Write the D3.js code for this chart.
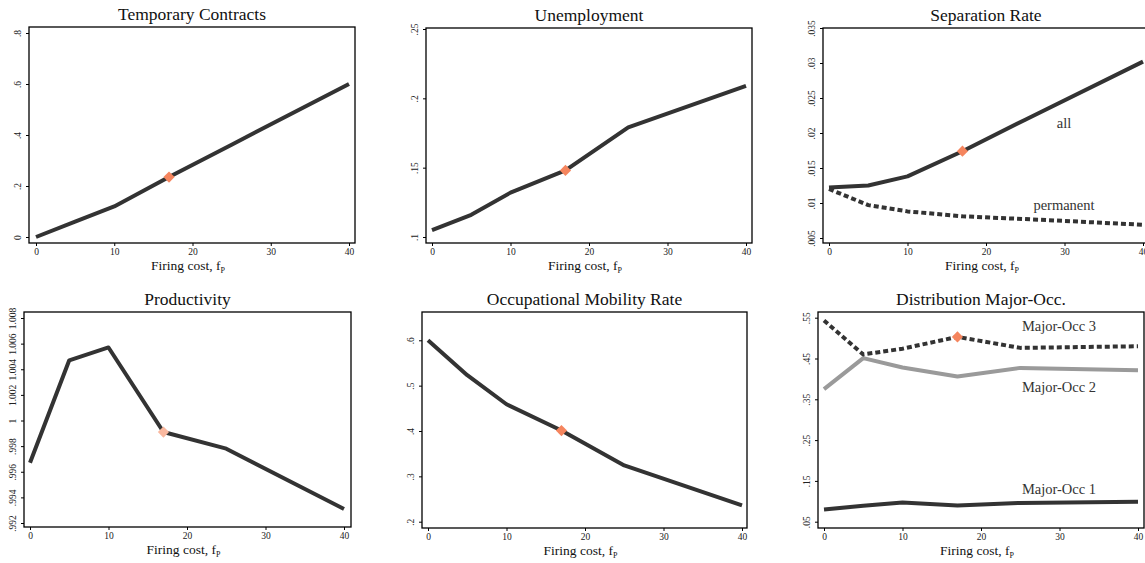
<!DOCTYPE html>
<html><head><meta charset="utf-8">
<script src="https://cdn.jsdelivr.net/npm/d3@7/dist/d3.min.js"></script>
<style>
body{margin:0;background:#fff;}
svg{display:block;font-family:"Liberation Serif","Times New Roman",serif;}
</style></head><body>
<svg id="c" width="1145" height="563"></svg>
<script>
const firingCost = [0, 5, 10, 17, 25, 40];
const baselineFc = 17;
const xTicks = [0, 10, 20, 30, 40];

const tempContracts = [0, 0.06, 0.12, 0.235, 0.362, 0.6];
const unemployment = [0.105, 0.116, 0.132, 0.148, 0.179, 0.209];
const sepAll = [0.0122, 0.0125, 0.0138, 0.0174, 0.0219, 0.0302];
const sepPermanent = [0.0120, 0.0097, 0.0088, 0.0081, 0.0077, 0.0069];
const productivity = [0.9967, 1.0047, 1.0057, 0.9991, 0.9978, 0.9931];
const occMobility = [0.600, 0.523, 0.459, 0.401, 0.324, 0.236];
const majorOcc1 = [0.080, 0.089, 0.097, 0.090, 0.096, 0.099];
const majorOcc2 = [0.375, 0.451, 0.428, 0.406, 0.427, 0.421];
const majorOcc3 = [0.543, 0.460, 0.474, 0.503, 0.476, 0.480];

const ticksTemp = [0, 0.2, 0.4, 0.6, 0.8];
const ticksUnemp = [0.1, 0.15, 0.2, 0.25];
const ticksSep = [0.005, 0.01, 0.015, 0.02, 0.025, 0.03, 0.035];
const ticksProd = [0.992, 0.994, 0.996, 0.998, 1, 1.002, 1.004, 1.006, 1.008];
const ticksMob = [0.2, 0.3, 0.4, 0.5, 0.6];
const ticksDist = [0.05, 0.15, 0.25, 0.35, 0.45, 0.55];

const fmt = v => {
  let s = String(+v.toFixed(4));
  if (s.startsWith("0.")) s = s.slice(1);
  return s;
};

const panels = [
  {title:"Temporary Contracts", fx:29, fy:27, fw:326, fh:216, xr:[36,349], yd:[0,0.8], yr:[237,33], ticks:ticksTemp,
   series:[{v:tempContracts, c:"#333333", dash:null, diamond:true}]},
  {title:"Unemployment", fx:426, fy:28, fw:326, fh:215, xr:[432,746], yd:[0.1,0.25], yr:[237,29], ticks:ticksUnemp,
   series:[{v:unemployment, c:"#333333", dash:null, diamond:true}]},
  {title:"Separation Rate", fx:823, fy:28, fw:326, fh:215, xr:[829,1143], yd:[0.005,0.035], yr:[238,28], ticks:ticksSep,
   series:[{v:sepAll, c:"#333333", dash:null, diamond:true},{v:sepPermanent, c:"#333333", dash:"5,3", diamond:false}],
   labels:[{t:"all", x:1064, y:128},{t:"permanent", x:1064, y:210}]},
  {title:"Productivity", fx:24, fy:312, fw:327, fh:215, xr:[30,344], yd:[0.992,1.008], yr:[523,318], ticks:ticksProd,
   series:[{v:productivity, c:"#333333", dash:null, diamond:true, dc:"#f9b89f"}]},
  {title:"Occupational Mobility Rate", fx:422, fy:312, fw:325, fh:216, xr:[428,742], yd:[0.2,0.6], yr:[521.7,340.3], ticks:ticksMob,
   series:[{v:occMobility, c:"#333333", dash:null, diamond:true}]},
  {title:"Distribution Major-Occ.", fx:818, fy:312, fw:326, fh:216, xr:[824,1138], yd:[0.05,0.55], yr:[521.7,317.7], ticks:ticksDist,
   series:[{v:majorOcc1, c:"#333333", dash:null, diamond:false},
           {v:majorOcc2, c:"#9a9a9a", dash:null, diamond:false},
           {v:majorOcc3, c:"#333333", dash:"5,3", diamond:true}],
   labels:[{t:"Major-Occ 3", x:1059, y:331},{t:"Major-Occ 2", x:1059, y:392},{t:"Major-Occ 1", x:1059, y:494}]}
];

const svg = d3.select("#c");

panels.forEach(p => {
  const g = svg.append("g");
  const x = d3.scaleLinear().domain([0,40]).range(p.xr);
  const y = d3.scaleLinear().domain(p.yd).range(p.yr);
  const bottom = p.fy + p.fh;

  g.append("text").attr("x", p.fx + p.fw/2).attr("y", p.fy - 7)
    .attr("text-anchor","middle").attr("font-size", 17.5).attr("fill","#111").text(p.title);

  const xa = g.append("g").attr("transform",`translate(0,${bottom})`)
    .call(d3.axisBottom(x).tickValues(xTicks).tickSize(3).tickPadding(2).tickFormat(d3.format("d")));
  xa.select(".domain").remove();
  xa.selectAll("line").attr("stroke","#000");
  xa.selectAll("text").attr("font-size",9.5).attr("fill","#222").attr("font-family","Liberation Serif");

  const xl = g.append("text").attr("x", p.fx + p.fw/2 - 4).attr("y", bottom + 27)
    .attr("text-anchor","middle").attr("font-size",13.5).attr("fill","#111");
  xl.append("tspan").text("Firing cost, f");
  xl.append("tspan").attr("font-size",8).attr("dy",3).text("P");

  const ya = g.append("g").attr("transform",`translate(${p.fx},0)`)
    .call(d3.axisLeft(y).tickValues(p.ticks).tickSize(3).tickPadding(0).tickFormat(fmt));
  ya.select(".domain").remove();
  ya.selectAll("line").attr("stroke","#000");
  ya.selectAll("text").attr("font-size",9.5).attr("fill","#222").attr("font-family","Liberation Serif")
    .attr("text-anchor","middle").attr("dy",null).attr("x",null)
    .attr("transform","translate(-8,0) rotate(-90)");

  const cid = "clip" + p.fx + "_" + p.fy;
  svg.append("clipPath").attr("id",cid).append("rect")
    .attr("x",p.fx).attr("y",p.fy).attr("width",p.fw).attr("height",p.fh);

  const line = d3.line().x((d,i)=>x(firingCost[i])).y(d=>y(d));
  const plot = g.append("g").attr("clip-path",`url(#${cid})`);
  p.series.forEach(s => {
    plot.append("path").datum(s.v).attr("d", line).attr("fill","none")
      .attr("stroke", s.c).attr("stroke-width", 4)
      .attr("stroke-dasharray", s.dash).attr("stroke-linejoin","round");
  });
  p.series.forEach(s => {
    if (!s.diamond) return;
    const i = firingCost.indexOf(baselineFc);
    plot.append("path").attr("d", d3.symbol(d3.symbolDiamond2, 80)())
      .attr("transform",`translate(${x(firingCost[i])},${y(s.v[i])})`)
      .attr("fill", s.dc || "#f5855e");
  });

  (p.labels||[]).forEach(l => {
    g.append("text").attr("x",l.x).attr("y",l.y).attr("text-anchor","middle")
      .attr("font-size",14.5).attr("fill","#333").text(l.t);
  });

  g.append("rect").attr("x",p.fx).attr("y",p.fy).attr("width",p.fw).attr("height",p.fh)
    .attr("fill","none").attr("stroke","#000").attr("stroke-width",1.3);
});
</script>
</body></html>
